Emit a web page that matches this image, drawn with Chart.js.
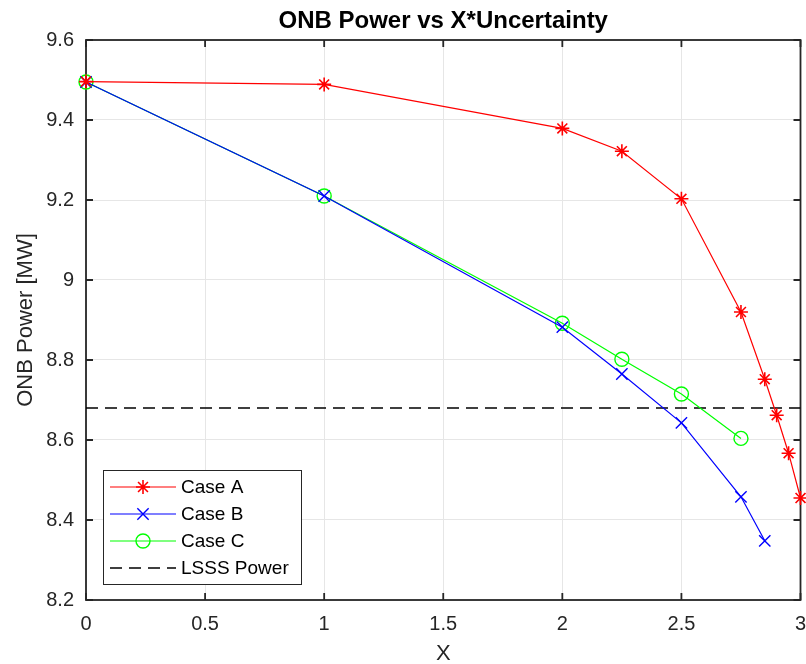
<!DOCTYPE html>
<html>
<head>
<meta charset="utf-8">
<script src="https://cdn.jsdelivr.net/npm/chart.js@4.4.1/dist/chart.umd.min.js"></script>
<style>
  html, body { margin: 0; padding: 0; background: #fff; }
  canvas { display: block; }
</style>
</head>
<body>
<canvas id="onb-chart" width="806" height="664"></canvas>
<script>
// Valores
const seriesNames = ['Case A', 'Case B', 'Case C', 'LSSS Power'];
const xCaseA = [0, 1, 2, 2.25, 2.5, 2.75, 2.85, 2.9, 2.95, 3];
const yCaseA = [9.496, 9.489, 9.379, 9.322, 9.203, 8.92, 8.752, 8.662, 8.567, 8.455];
const xCaseB = [0, 1, 2, 2.25, 2.5, 2.75, 2.85];
const yCaseB = [9.495, 9.21, 8.882, 8.765, 8.643, 8.458, 8.348];
const xCaseC = [0, 1, 2, 2.25, 2.5, 2.75];
const yCaseC = [9.495, 9.21, 8.892, 8.802, 8.715, 8.604];
const xLsss = [0, 3];
const yLsss = [8.68, 8.68];

const xTickValues = [0, 0.5, 1, 1.5, 2, 2.5, 3];
const xTickLabels = ['0', '0.5', '1', '1.5', '2', '2.5', '3'];
const yTickValues = [8.2, 8.4, 8.6, 8.8, 9, 9.2, 9.4, 9.6];
const yTickLabels = ['8.2', '8.4', '8.6', '8.8', '9', '9.2', '9.4', '9.6'];

const toPoints = (xs, ys) => xs.map((x, i) => ({ x: x, y: ys[i] }));

const AXIS_COLOR = '#262626';
const FONT = "'Liberation Sans', Arial, Helvetica, sans-serif";

// Caja de ejes con marcas hacia adentro (estilo MATLAB) y etiquetas del eje X
const boxPlugin = {
  id: 'axesBox',
  beforeDatasetsDraw(chart) {
    const { ctx, chartArea: a, scales } = chart;
    const tl = 7;
    ctx.save();
    ctx.strokeStyle = AXIS_COLOR;
    ctx.lineWidth = 1.8;
    ctx.beginPath();
    xTickValues.forEach(v => {
      const px = scales.x.getPixelForValue(v);
      ctx.moveTo(px, a.bottom); ctx.lineTo(px, a.bottom - tl);
      ctx.moveTo(px, a.top); ctx.lineTo(px, a.top + tl);
    });
    yTickValues.forEach(v => {
      const py = scales.y.getPixelForValue(v);
      ctx.moveTo(a.left, py); ctx.lineTo(a.left + tl, py);
      ctx.moveTo(a.right, py); ctx.lineTo(a.right - tl, py);
    });
    ctx.stroke();
    ctx.strokeRect(a.left, a.top, a.right - a.left, a.bottom - a.top);
    // etiquetas X dibujadas aqui para que no cambien el margen derecho
    ctx.fillStyle = AXIS_COLOR;
    ctx.font = '20px ' + FONT;
    ctx.textAlign = 'center';
    ctx.textBaseline = 'middle';
    xTickValues.forEach((v, i) => {
      ctx.fillText(xTickLabels[i], scales.x.getPixelForValue(v), a.bottom + 24);
    });
    ctx.restore();
  }
};

// Leyenda dentro del area del grafico, abajo a la izquierda
const legendPlugin = {
  id: 'innerLegend',
  afterDatasetsDraw(chart) {
    const { ctx, chartArea: a } = chart;
    const bx = a.left + 17, by = a.bottom - 130, bw = 198, bh = 114;
    ctx.save();
    ctx.fillStyle = '#fff';
    ctx.fillRect(bx, by, bw, bh);
    ctx.strokeStyle = AXIS_COLOR;
    ctx.lineWidth = 1;
    ctx.strokeRect(bx + 0.5, by + 0.5, bw, bh);
    chart.data.datasets.forEach((ds, i) => {
      const cy = by + 17 + i * 27;
      const x0 = bx + 7, x1 = bx + 73;
      ctx.strokeStyle = ds.borderColor;
      ctx.lineWidth = ds.borderWidth;
      ctx.setLineDash(ds.borderDash || []);
      ctx.beginPath();
      ctx.moveTo(x0, cy); ctx.lineTo(x1, cy);
      ctx.stroke();
      ctx.setLineDash([]);
      if (ds.pointRadius > 0) {
        ctx.lineWidth = ds.pointBorderWidth;
        ctx.strokeStyle = ds.borderColor;
        ctx.fillStyle = 'rgba(0,0,0,0)';
        Chart.helpers.drawPoint(ctx, {
          pointStyle: ds.pointStyle, radius: ds.pointRadius, rotation: 0, borderWidth: ds.pointBorderWidth
        }, (x0 + x1) / 2, cy);
      }
      ctx.fillStyle = '#000';
      ctx.font = '19px ' + FONT;
      ctx.textBaseline = 'middle';
      ctx.textAlign = 'left';
      ctx.fillText(seriesNames[i], bx + 78, cy + 1);
    });
    ctx.restore();
  }
};

new Chart(document.getElementById('onb-chart'), {
  type: 'line',
  data: {
    datasets: [
      {
        label: seriesNames[0],
        data: toPoints(xCaseA, yCaseA),
        borderColor: '#ff0000',
        borderWidth: 1.2,
        pointStyle: 'star',
        pointRadius: 7,
        pointBorderWidth: 1.6,
        pointBackgroundColor: 'rgba(0,0,0,0)',
        clip: false
      },
      {
        label: seriesNames[1],
        data: toPoints(xCaseB, yCaseB),
        borderColor: '#0000ff',
        borderWidth: 1.2,
        pointStyle: 'crossRot',
        pointRadius: 8,
        pointBorderWidth: 1.4,
        pointBackgroundColor: 'rgba(0,0,0,0)',
        clip: false
      },
      {
        label: seriesNames[2],
        data: toPoints(xCaseC, yCaseC),
        borderColor: '#00ff00',
        borderWidth: 1.2,
        pointStyle: 'circle',
        pointRadius: 7,
        pointBorderWidth: 1.4,
        pointBackgroundColor: 'rgba(0,0,0,0)',
        clip: false
      },
      {
        label: seriesNames[3],
        data: toPoints(xLsss, yLsss),
        borderColor: '#000000',
        borderWidth: 1.4,
        borderDash: [12, 7],
        pointRadius: 0,
        pointBorderWidth: 0
      }
    ]
  },
  options: {
    responsive: false,
    animation: false,
    devicePixelRatio: 1,
    layout: { autoPadding: false, padding: { left: 0, right: 5.5, top: 0, bottom: 0 } },
    plugins: {
      legend: { display: false },
      tooltip: { enabled: false },
      title: {
        display: true,
        fullSize: false,
        text: 'ONB Power vs X*Uncertainty',
        color: '#000',
        font: { family: FONT, size: 24, weight: 'bold', lineHeight: 1.2 },
        padding: { top: 7, bottom: 4.2 }
      }
    },
    scales: {
      x: {
        type: 'linear',
        min: 0,
        max: 3,
        afterFit: s => { s.height = 64; },
        afterBuildTicks: s => { s.ticks = xTickValues.map(v => ({ value: v })); },
        ticks: { display: false },
        grid: { color: '#e6e6e6', lineWidth: 1, drawTicks: false },
        border: { display: false },
        title: {
          display: true,
          text: 'X',
          color: AXIS_COLOR,
          font: { family: FONT, size: 22, lineHeight: 0.9 },
          padding: { top: 0, bottom: 0 }
        }
      },
      y: {
        type: 'linear',
        min: 8.2,
        max: 9.6,
        afterFit: s => { s.width = 86; },
        afterBuildTicks: s => { s.ticks = yTickValues.map(v => ({ value: v })); },
        ticks: {
          color: AXIS_COLOR,
          font: { family: FONT, size: 20 },
          padding: 12,
          callback: (v, i) => yTickLabels[i]
        },
        grid: { color: '#e6e6e6', lineWidth: 1, drawTicks: false },
        border: { display: false },
        title: {
          display: true,
          text: 'ONB Power [MW]',
          color: AXIS_COLOR,
          font: { family: FONT, size: 22, lineHeight: 1.2 },
          padding: { top: 13, bottom: 0 }
        }
      }
    }
  },
  plugins: [boxPlugin, legendPlugin]
});
</script>
</body>
</html>
